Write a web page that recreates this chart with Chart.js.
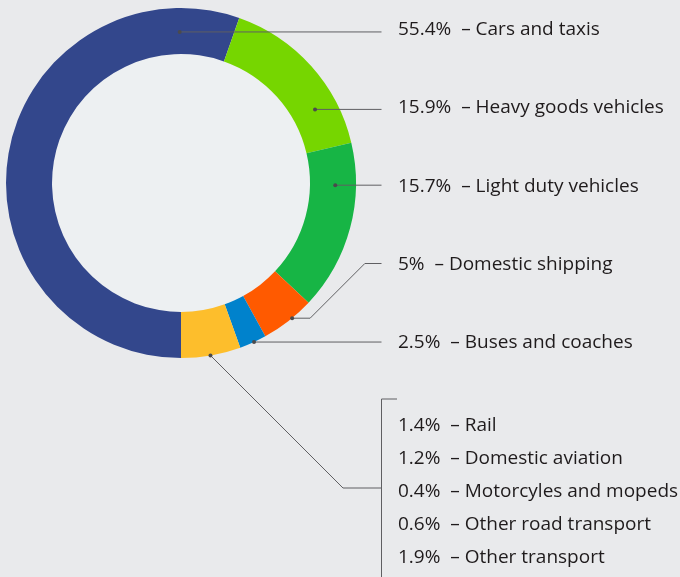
<!DOCTYPE html>
<html>
<head>
<meta charset="utf-8">
<script src="https://cdn.jsdelivr.net/npm/chart.js@4/dist/chart.umd.min.js"></script>
<style>
    html, body { margin: 0; padding: 0; background: #e9eaec; }
    #wrap { position: relative; width: 680px; height: 577px; }
</style>
</head>
<body>
<div id="wrap"><canvas id="transport_chart" width="680" height="577"></canvas></div>
<script>
// Share of domestic transport emissions, clockwise from the bottom of the ring
var categories = ['Cars and taxis', 'Heavy goods vehicles', 'Light duty vehicles', 'Domestic shipping', 'Buses and coaches', 'Other'];
var shareLabels = ['55.4%', '15.9%', '15.7%', '5%', '2.5%'];
var mainShares = [55.4, 15.9, 15.7, 5, 2.5];

// The "Other" slice is broken down in the list at the bottom right
var otherCategories = ['Rail', 'Domestic aviation', 'Motorcyles and mopeds', 'Other road transport', 'Other transport'];
var otherLabels = ['1.4%', '1.2%', '0.4%', '0.6%', '1.9%'];
var otherShares = [1.4, 1.2, 0.4, 0.6, 1.9];

var otherTotal = otherShares.reduce(function (sum, v) { return sum + v }, 0)
var shares = mainShares.concat([otherTotal])

var colors = ['#33478c', '#76d600', '#17b545', '#ff5a00', '#0082cc', '#fdbe2c']

// Where each leader line leaves its slice and which text row it runs to
var callouts = [
    { along: 0.90, depth: 0.48, row: 28.5 },
    { along: 0.73, depth: 0.52, row: 106.5 },
    { along: 0.25, depth: 0.55, row: 185.5 },
    { along: 0.41, depth: 1.00, row: 263.5, stub: 18, bend: true },
    { along: 0.46, depth: 1.00, row: 341 },
    { along: 0.51, depth: 1.00, row: 488, stub: 0, bend: true }
]

var lineEndX = 381.5
var textX = 398
var listTop = 424
var listStep = 33
var font = '19px "Open Sans"'

var calloutPlugin = {
    id: 'callouts',

    // Pale disc inside the ring
    beforeDatasetsDraw: function (chart) {
        var arc = chart.getDatasetMeta(0).data[0]
        var ctx = chart.ctx
        ctx.save()
        ctx.beginPath()
        ctx.arc(arc.x, arc.y, arc.innerRadius, 0, Math.PI * 2)
        ctx.fillStyle = '#edf0f2'
        ctx.fill()
        ctx.restore()
    },

    afterDatasetsDraw: function (chart) {
        var ctx = chart.ctx
        var arcs = chart.getDatasetMeta(0).data

        ctx.save()
        ctx.strokeStyle = '#5f5f62'
        ctx.fillStyle = '#4a4a4d'
        ctx.lineWidth = 1

        callouts.forEach(function (c, i) {
            var arc = arcs[i]
            var a = arc.startAngle + c.along * (arc.endAngle - arc.startAngle)
            var r = arc.innerRadius + c.depth * (arc.outerRadius - arc.innerRadius)
            var x0 = arc.x + Math.cos(a) * r
            var y0 = arc.y + Math.sin(a) * r

            ctx.beginPath()
            ctx.moveTo(x0, y0)
            if (c.bend) {
                var x1 = x0 + c.stub
                var x2 = x1 + Math.abs(c.row - y0)
                ctx.lineTo(x1, y0)
                ctx.lineTo(x2, c.row)
                ctx.lineTo(lineEndX, c.row)
            } else {
                ctx.lineTo(lineEndX, y0)
            }
            ctx.stroke()

            ctx.beginPath()
            ctx.arc(x0, y0, 2, 0, Math.PI * 2)
            ctx.fill()
        })

        // Bracket grouping the smaller sources
        var bracketTop = listTop - 25
        ctx.beginPath()
        ctx.moveTo(textX - 1, bracketTop)
        ctx.lineTo(lineEndX, bracketTop)
        ctx.lineTo(lineEndX, chart.height)
        ctx.stroke()

        ctx.font = font
        ctx.fillStyle = '#1f1b1c'
        ctx.textBaseline = 'alphabetic'

        function drawRow(pct, name, y) {
            ctx.fillText(pct + '  \u2013 ' + name, textX, y + 6.8)
        }

        shareLabels.forEach(function (pct, i) {
            drawRow(pct, categories[i], callouts[i].row)
        })

        otherLabels.forEach(function (pct, i) {
            drawRow(pct, otherCategories[i], listTop + i * listStep)
        })

        ctx.restore()
    }
}

var ctx = document.getElementById('transport_chart')

var chart = new Chart(ctx, {
    type: 'doughnut',
    data: {
        labels: categories,
        datasets: [
            {
                data: shares,
                backgroundColor: colors,
                borderWidth: 0
            }
        ]
    },
    options: {
        responsive: false,
        animation: false,
        rotation: 180,
        cutout: '73.7%',
        layout: {
            padding: { left: 6, top: 8, right: 324, bottom: 219 }
        },
        plugins: {
            legend: { display: false },
            tooltip: { enabled: false }
        }
    },
    plugins: [calloutPlugin]
})
</script>
</body>
</html>
